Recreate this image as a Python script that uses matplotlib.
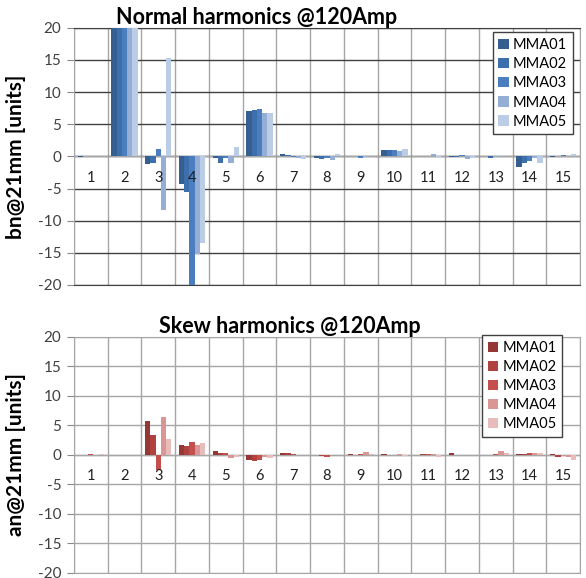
import numpy as np
import matplotlib.pyplot as plt

plt.rcParams['font.family'] = ['Lato', 'DejaVu Sans']
plt.rcParams['axes.unicode_minus'] = False

harmonics = [str(i) for i in range(1, 16)]
series = ['MMA01', 'MMA02', 'MMA03', 'MMA04', 'MMA05']

# normal harmonics bn (b2 is the main field, off scale)
bn = {
    'MMA01': [-0.1, 10000, -1.2, -4.3, -0.3, 7.0, 0.3, -0.3, 0.0, 1.0, 0.0, -0.1, 0.0, -1.6, -0.1],
    'MMA02': [0.0, 10000, -1.05, -5.5, -1.0, 7.15, 0.2, -0.4, 0.0, 1.0, 0.0, -0.1, -0.25, -1.1, 0.1],
    'MMA03': [0.0, 10000, 1.1, -20.5, -0.2, 7.35, -0.1, -0.3, -0.2, 1.0, 0.0, 0.15, 0.0, -0.8, 0.2],
    'MMA04': [0.0, 10000, -8.3, -15.2, -1.0, 6.7, -0.2, -0.5, -0.1, 0.8, 0.35, -0.45, -0.1, -0.2, 0.1],
    'MMA05': [0.0, 10000, 15.3, -13.5, 1.4, 6.8, -0.4, 0.3, 0.0, 1.1, -0.1, -0.2, 0.0, -1.1, 0.35],
}

# skew harmonics an
an = {
    'MMA01': [0.0, 0.0, 5.8, 1.6, 0.6, -0.8, 0.3, -0.1, 0.1, 0.1, 0.0, 0.25, 0.0, 0.2, 0.2],
    'MMA02': [0.0, 0.0, 3.3, 1.5, 0.4, -1.0, 0.3, -0.2, 0.0, 0.0, 0.1, 0.0, -0.1, 0.2, -0.3],
    'MMA03': [0.15, 0.0, -2.6, 2.2, 0.3, -0.8, 0.2, -0.35, 0.15, 0.0, 0.1, 0.05, 0.2, 0.25, -0.1],
    'MMA04': [0.0, 0.0, 6.4, 1.6, -0.45, -0.3, -0.1, -0.1, 0.5, 0.2, 0.1, 0.05, 0.7, 0.3, -0.4],
    'MMA05': [0.1, 0.0, 2.65, 2.0, -0.4, -0.6, -0.1, 0.0, 0.1, -0.15, -0.35, 0.0, 0.3, 0.4, -0.8],
}

blues = ['#365F91', '#3E6FAD', '#4A7EBF', '#95AED5', '#BACCE6']
reds = ['#953735', '#B0413E', '#C4504D', '#D99694', '#E8BCBA']

fig = plt.figure(figsize=(5.86, 5.78), dpi=100)
ax1 = fig.add_axes([0.126, 0.507, 0.864, 0.445])
ax2 = fig.add_axes([0.126, 0.009, 0.864, 0.408])


def draw(ax, data, colors, title, tx, ylabel, hcolor, lab_off):
    x = np.arange(len(harmonics))
    w = 0.155
    for i, s in enumerate(series):
        ax.bar(x + (i - 2) * w, data[s], width=w, color=colors[i], label=s, zorder=3)
    ax.set_xlim(-0.5, len(harmonics) - 0.5)
    ax.set_ylim(-20, 20)
    ax.set_yticks(range(-20, 21, 5))
    ax.set_xticks(np.arange(len(harmonics) + 1) - 0.5)
    ax.set_xticklabels([])
    ax.tick_params(axis='x', length=0)
    ax.tick_params(axis='y', direction='out', length=5, color='#888888',
                   labelsize=11, labelcolor='#404040', pad=4)
    ax.grid(True, axis='x', color='#a6a6a6', lw=1, zorder=1)
    ax.grid(True, axis='y', color=hcolor, lw=1, zorder=1)
    for sp in ax.spines.values():
        sp.set_color('#a6a6a6')
    ax.spines['bottom'].set_color(hcolor)
    ax.spines['top'].set_color(hcolor)
    ax.axhline(0, color='#a6a6a6', lw=1, zorder=2)
    for xi, h in zip(x, harmonics):
        ax.annotate(h, (xi, 0), xytext=(0, -lab_off), textcoords='offset points',
                    ha='center', va='center', fontsize=10.5, color='#202020')
    ax.set_title(title, fontsize=15.5, fontweight='bold', x=tx, pad=3)
    ax.set_ylabel(ylabel, fontsize=15, fontweight='bold')
    ax.yaxis.set_label_coords(-0.095, 0.5)


draw(ax1, bn, blues, 'Normal harmonics @120Amp', 0.36, 'bn@21mm [units]', '#404040', 15.5)
draw(ax2, an, reds, 'Skew harmonics @120Amp', 0.427, 'an@21mm [units]', '#a6a6a6', 15)

for ax, loc in ((ax1, (0.827, 0.585)), (ax2, (0.806, 0.575))):
    leg = ax.legend(loc='lower left', bbox_to_anchor=loc, fontsize=10.5, frameon=True,
                    fancybox=False, edgecolor='#404040', framealpha=1,
                    handlelength=0.7, handleheight=0.7, handletextpad=0.3,
                    labelspacing=0.35, borderpad=0.4, borderaxespad=0)
    leg.get_frame().set_linewidth(1)
    leg.set_zorder(5)

fig.savefig('out.png', dpi=100)
